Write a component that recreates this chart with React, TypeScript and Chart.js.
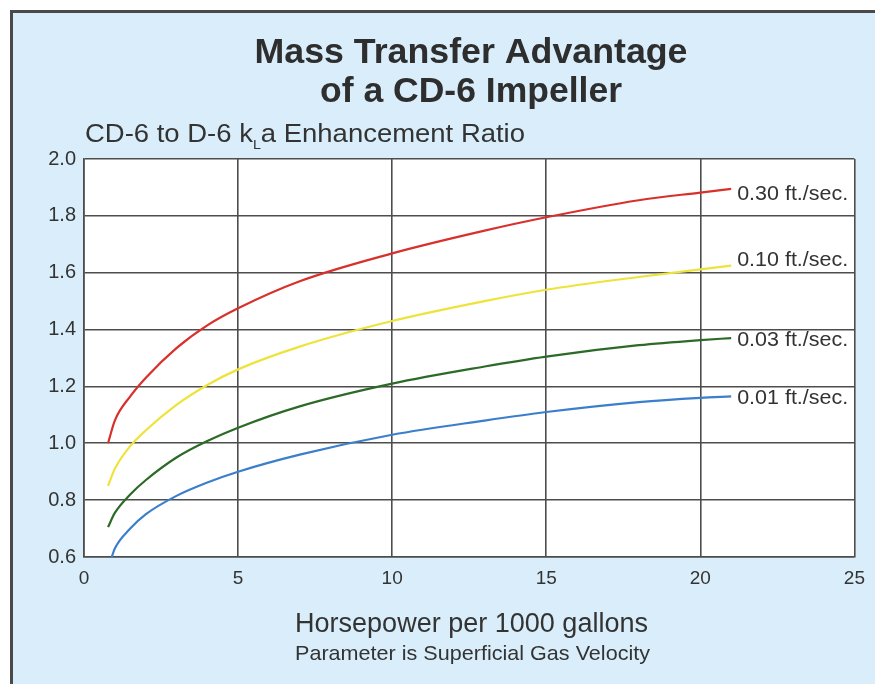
import React, { useEffect, useRef } from "react";
import { Chart, registerables } from "chart.js";

Chart.register(...registerables);

const titleLines = ["Mass Transfer Advantage", "of a CD-6 Impeller"];
const yTitleMain = "CD-6 to D-6 k";
const yTitleSub = "L";
const yTitleRest = "a Enhancement Ratio";
const xTitle = "Horsepower per 1000 gallons";
const xSubtitle = "Parameter is Superficial Gas Velocity";

const seriesLabels = ["0.30 ft./sec.", "0.10 ft./sec.", "0.03 ft./sec.", "0.01 ft./sec."];
const seriesColors = ["#d8312c", "#eee33a", "#2c6b27", "#3b7fcc"];

const hpA = [0.78, 1, 1.5, 2, 3, 4, 5, 7, 10, 13, 15, 18, 20, 21];
const hpBlue = [0.9, 1, 1.5, 2, 3, 4, 5, 7, 10, 13, 15, 18, 20, 21];

const ratio030 = [1.0, 1.08, 1.165, 1.23, 1.335, 1.415, 1.475, 1.57, 1.668, 1.748, 1.795, 1.855, 1.882, 1.895];
const ratio010 = [0.85, 0.91, 0.99, 1.045, 1.135, 1.205, 1.26, 1.34, 1.43, 1.5, 1.54, 1.585, 1.612, 1.625];
const ratio003 = [0.705, 0.755, 0.82, 0.87, 0.95, 1.008, 1.055, 1.13, 1.21, 1.27, 1.305, 1.345, 1.363, 1.37];
const ratio001 = [0.6, 0.63, 0.7, 0.75, 0.815, 0.862, 0.9, 0.96, 1.03, 1.08, 1.11, 1.145, 1.16, 1.165];

const seriesX = [hpA, hpA, hpA, hpBlue];
const seriesY = [ratio030, ratio010, ratio003, ratio001];
const labelOffsets = [6, -5, 2, 2];

const FONT = "'Liberation Sans', Arial, sans-serif";

function fitText(ctx: CanvasRenderingContext2D, text: string, x: number, y: number, font: string, targetW: number, align: CanvasTextAlign) {
  ctx.save();
  ctx.font = font;
  const w = ctx.measureText(text).width;
  ctx.translate(x, y);
  ctx.scale(targetW / w, 1);
  ctx.textAlign = align;
  ctx.fillText(text, 0, 0);
  ctx.restore();
}

export default function App() {
  const ref = useRef<HTMLCanvasElement>(null);
  useEffect(() => {
    const canvas = ref.current!;
    const decor = {
      id: "decor",
      beforeDraw(chart: any) {
        const { ctx, chartArea } = chart;
        ctx.save();
        ctx.fillStyle = "#ffffff";
        ctx.fillRect(0, 0, 875, 684);
        ctx.fillStyle = "#d9eefa";
        ctx.fillRect(11, 11, 864, 673);
        ctx.strokeStyle = "#4a4a4a";
        ctx.lineWidth = 3;
        ctx.beginPath();
        ctx.moveTo(11.5, 684);
        ctx.lineTo(11.5, 11.5);
        ctx.lineTo(875, 11.5);
        ctx.stroke();
        ctx.fillStyle = "#ffffff";
        ctx.fillRect(chartArea.left, chartArea.top, chartArea.right - chartArea.left, chartArea.bottom - chartArea.top);
        ctx.restore();
      },
      afterDraw(chart: any) {
        const { ctx } = chart;
        ctx.save();
        ctx.textBaseline = "alphabetic";
        ctx.fillStyle = "#2e2e2e";
        fitText(ctx, titleLines[0], 471, 63, `bold 35px ${FONT}`, 433, "center");
        fitText(ctx, titleLines[1], 471, 102, `bold 35px ${FONT}`, 302, "center");

        // y-axis title with subscript
        ctx.fillStyle = "#333";
        const big = `25px ${FONT}`;
        const small = `13px ${FONT}`;
        ctx.font = big;
        const w1 = ctx.measureText(yTitleMain).width;
        const w3 = ctx.measureText(yTitleRest).width;
        ctx.font = small;
        const w2 = ctx.measureText(yTitleSub).width;
        const sx = 440 / (w1 + w2 + w3);
        ctx.save();
        ctx.translate(85, 142);
        ctx.scale(sx, 1);
        ctx.textAlign = "left";
        ctx.font = big;
        ctx.fillText(yTitleMain, 0, 0);
        ctx.font = small;
        ctx.fillText(yTitleSub, w1, 7);
        ctx.font = big;
        ctx.fillText(yTitleRest, w1 + w2, 0);
        ctx.restore();

        fitText(ctx, xTitle, 295, 632, `27px ${FONT}`, 353, "left");
        fitText(ctx, xSubtitle, 295, 660, `21px ${FONT}`, 355, "left");

        ctx.textBaseline = "middle";
        chart.data.datasets.forEach((ds: any, i: number) => {
          const meta = chart.getDatasetMeta(i);
          const last = meta.data[meta.data.length - 1];
          fitText(ctx, seriesLabels[i], last.x + 6, last.y + labelOffsets[i], `20px ${FONT}`, 111, "left");
        });
        ctx.restore();
      },
    };

    const chart = new Chart(canvas, {
      type: "line",
      data: {
        datasets: seriesLabels.map((label, i) => ({
          label,
          data: seriesX[i].map((v, j) => ({ x: v, y: seriesY[i][j] })),
          borderColor: seriesColors[i],
          borderWidth: 2.2,
          pointRadius: 0,
          fill: false,
          cubicInterpolationMode: "monotone" as const,
        })),
      },
      options: {
        animation: false,
        responsive: false,
        devicePixelRatio: 1,
        layout: { padding: { left: 0, right: 20, top: 159, bottom: 0 } },
        plugins: { legend: { display: false }, title: { display: false }, tooltip: { enabled: false } },
        scales: {
          x: {
            type: "linear",
            min: 0,
            max: 25,
            ticks: { stepSize: 5, padding: 10, color: "#333", font: { family: FONT, size: 19 } },
            grid: { color: "#4d4d4d", lineWidth: 1.6, drawTicks: false },
            border: { color: "#4d4d4d", width: 1.6 },
            afterFit(scale: any) { scale.height = 127; },
          },
          y: {
            min: 0.6,
            max: 2.0,
            ticks: {
              stepSize: 0.2,
              padding: 8,
              color: "#333",
              font: { family: FONT, size: 20 },
              callback: (v: any) => Number(v).toFixed(1),
            },
            grid: { color: "#4d4d4d", lineWidth: 1.6, drawTicks: false },
            border: { color: "#4d4d4d", width: 1.6 },
            afterFit(scale: any) { scale.width = 84; },
          },
        },
      },
      plugins: [decor],
    });
    return () => chart.destroy();
  }, []);

  return (
    <div style={{ position: "absolute", left: 0, top: 0, width: 875, height: 684 }}>
      <canvas ref={ref} width={875} height={684} style={{ width: 875, height: 684, display: "block" }} />
    </div>
  );
}
